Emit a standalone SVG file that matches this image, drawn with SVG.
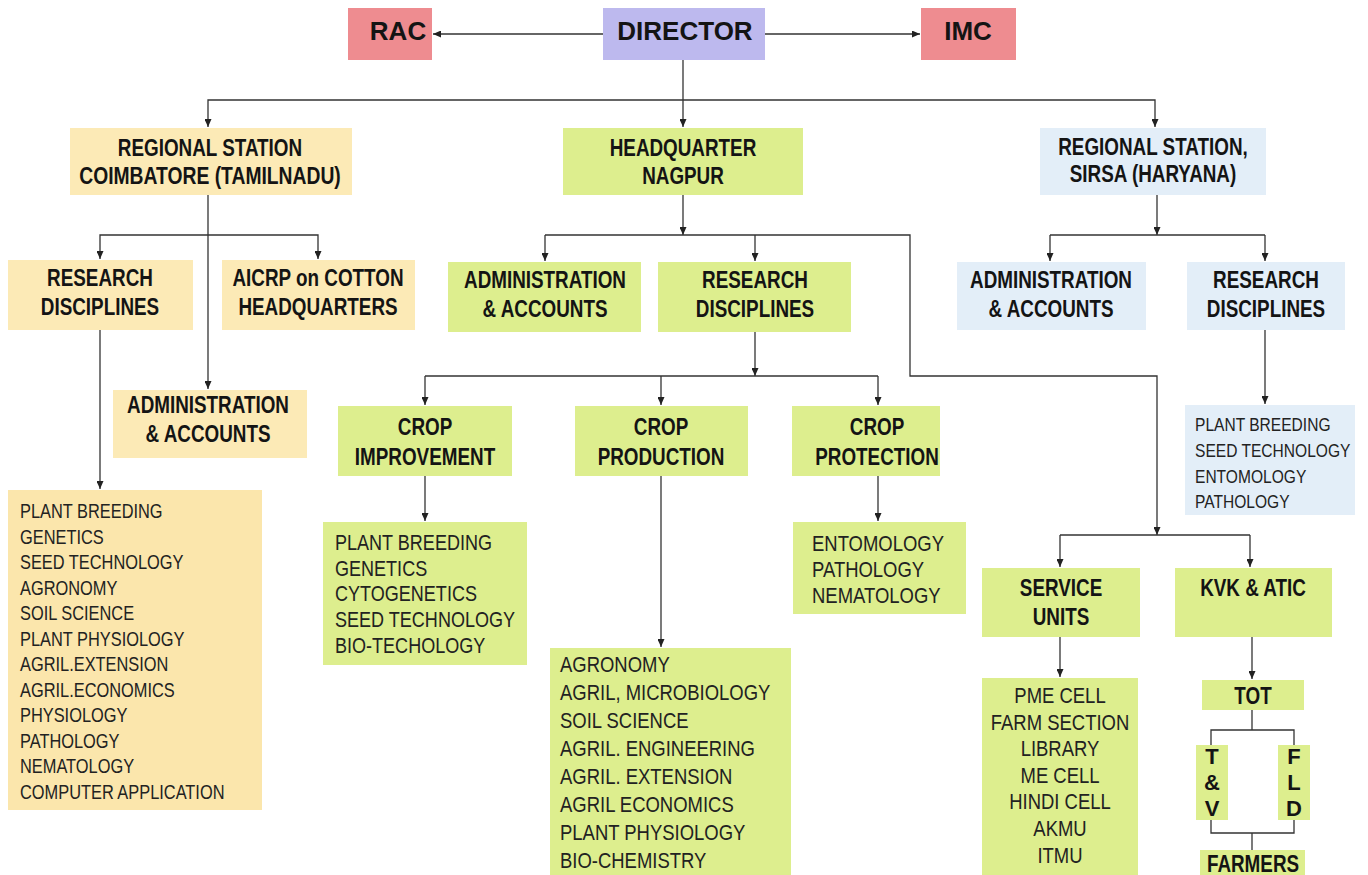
<svg xmlns="http://www.w3.org/2000/svg" width="1368" height="875" viewBox="0 0 1368 875">
<style>
.bg{fill:#ffffff}
.pink{fill:#EE8C90}
.lav{fill:#BDB9EE}
.cream{fill:#FCEAB6}
.creamL{fill:#FBE6AC}
.green{fill:#DDEE8E}
.blue{fill:#E3EEF8}
.top{font-family:'Liberation Sans',Arial,sans-serif;font-weight:bold;font-size:26px;fill:#141414;text-anchor:middle}
.h{font-family:'Liberation Sans',Arial,sans-serif;font-weight:bold;font-size:23px;fill:#141414;text-anchor:middle}
.v{font-family:'Liberation Sans',Arial,sans-serif;font-weight:bold;font-size:22px;fill:#141414;text-anchor:middle;writing-mode:vertical-rl;text-orientation:upright;letter-spacing:1px}
.l{font-family:'Liberation Sans',Arial,sans-serif;font-size:22px;fill:#222}
.ls{font-size:20px}
.lxs{font-size:19px}
.c{text-anchor:middle}
.conn path{fill:none;stroke:#333;stroke-width:1.3}
</style>
<defs>
<marker id="arr" markerUnits="userSpaceOnUse" markerWidth="8" markerHeight="7" refX="8" refY="3.5" orient="auto">
<path d="M0,0 L8,3.5 L0,7 z" fill="#222"/>
</marker>
</defs>
<rect class="bg" x="0" y="0" width="1368" height="875"/>

<g id="rac"><rect class="pink" x="348" y="8" width="84" height="52"/><text class="top" x="398" y="40">RAC</text></g>
<g id="director"><rect class="lav" x="603" y="8" width="162" height="52"/><text class="top" x="685" y="40">DIRECTOR</text></g>
<g id="imc"><rect class="pink" x="921" y="8" width="95" height="52"/><text class="top" x="968" y="40">IMC</text></g>

<g id="coimbatore"><rect class="cream" x="70" y="128" width="282" height="67"/><text class="h" transform="translate(210 156) scale(.82 1)">REGIONAL STATION</text><text class="h" transform="translate(210 184) scale(.84 1)">COIMBATORE (TAMILNADU)</text></g>
<g id="hq"><rect class="green" x="563" y="128" width="240" height="67"/><text class="h" transform="translate(683 156) scale(.82 1)">HEADQUARTER</text><text class="h" transform="translate(683 184) scale(.82 1)">NAGPUR</text></g>
<g id="sirsa"><rect class="blue" x="1040" y="128" width="226" height="67"/><text class="h" transform="translate(1153 155) scale(.82 1)">REGIONAL STATION,</text><text class="h" transform="translate(1153 182) scale(.82 1)">SIRSA (HARYANA)</text></g>

<g id="c-rd"><rect class="cream" x="8" y="260" width="185" height="70"/><text class="h" transform="translate(100 286) scale(.82 1)">RESEARCH</text><text class="h" transform="translate(100 315) scale(.82 1)">DISCIPLINES</text></g>
<g id="c-aicrp"><rect class="cream" x="222" y="260" width="193" height="70"/><text class="h" transform="translate(318 286) scale(.82 1)">AICRP on COTTON</text><text class="h" transform="translate(318 315) scale(.82 1)">HEADQUARTERS</text></g>
<g id="c-admin"><rect class="cream" x="113" y="390" width="194" height="68"/><text class="h" transform="translate(208 413) scale(.82 1)">ADMINISTRATION</text><text class="h" transform="translate(208 442) scale(.82 1)">&amp; ACCOUNTS</text></g>
<g id="c-list"><rect class="creamL" x="8" y="490" width="254" height="320"/>
<text class="l ls" transform="translate(20 518) scale(.82 1)">PLANT BREEDING</text>
<text class="l ls" transform="translate(20 544) scale(.82 1)">GENETICS</text>
<text class="l ls" transform="translate(20 569) scale(.82 1)">SEED TECHNOLOGY</text>
<text class="l ls" transform="translate(20 595) scale(.82 1)">AGRONOMY</text>
<text class="l ls" transform="translate(20 620) scale(.82 1)">SOIL SCIENCE</text>
<text class="l ls" transform="translate(20 646) scale(.82 1)">PLANT PHYSIOLOGY</text>
<text class="l ls" transform="translate(20 671) scale(.82 1)">AGRIL.EXTENSION</text>
<text class="l ls" transform="translate(20 697) scale(.82 1)">AGRIL.ECONOMICS</text>
<text class="l ls" transform="translate(20 722) scale(.82 1)">PHYSIOLOGY</text>
<text class="l ls" transform="translate(20 748) scale(.82 1)">PATHOLOGY</text>
<text class="l ls" transform="translate(20 773) scale(.82 1)">NEMATOLOGY</text>
<text class="l ls" transform="translate(20 799) scale(.82 1)">COMPUTER APPLICATION</text>
</g>

<g id="hq-admin"><rect class="green" x="448" y="262" width="193" height="70"/><text class="h" transform="translate(545 288) scale(.82 1)">ADMINISTRATION</text><text class="h" transform="translate(545 317) scale(.82 1)">&amp; ACCOUNTS</text></g>
<g id="hq-rd"><rect class="green" x="658" y="262" width="193" height="70"/><text class="h" transform="translate(755 288) scale(.82 1)">RESEARCH</text><text class="h" transform="translate(755 317) scale(.82 1)">DISCIPLINES</text></g>

<g id="crop-improvement"><rect class="green" x="338" y="406" width="174" height="70"/><text class="h" transform="translate(425 435) scale(.82 1)">CROP</text><text class="h" transform="translate(425 465) scale(.82 1)">IMPROVEMENT</text></g>
<g id="crop-production"><rect class="green" x="575" y="406" width="173" height="70"/><text class="h" transform="translate(661 435) scale(.82 1)">CROP</text><text class="h" transform="translate(661 465) scale(.82 1)">PRODUCTION</text></g>
<g id="crop-protection"><rect class="green" x="792" y="406" width="148" height="70"/><text class="h" transform="translate(877 435) scale(.82 1)">CROP</text><text class="h" transform="translate(877 465) scale(.82 1)">PROTECTION</text></g>

<g id="ci-list"><rect class="green" x="323" y="522" width="204" height="143"/>
<text class="l" transform="translate(335 550) scale(.82 1)">PLANT BREEDING</text>
<text class="l" transform="translate(335 576) scale(.82 1)">GENETICS</text>
<text class="l" transform="translate(335 601) scale(.82 1)">CYTOGENETICS</text>
<text class="l" transform="translate(335 627) scale(.82 1)">SEED TECHNOLOGY</text>
<text class="l" transform="translate(335 653) scale(.82 1)">BIO-TECHOLOGY</text>
</g>
<g id="cp-list"><rect class="green" x="550" y="648" width="241" height="227"/>
<text class="l" transform="translate(560 672) scale(.84 1)">AGRONOMY</text>
<text class="l" transform="translate(560 700) scale(.84 1)">AGRIL, MICROBIOLOGY</text>
<text class="l" transform="translate(560 728) scale(.84 1)">SOIL SCIENCE</text>
<text class="l" transform="translate(560 756) scale(.84 1)">AGRIL. ENGINEERING</text>
<text class="l" transform="translate(560 784) scale(.84 1)">AGRIL. EXTENSION</text>
<text class="l" transform="translate(560 812) scale(.84 1)">AGRIL ECONOMICS</text>
<text class="l" transform="translate(560 840) scale(.84 1)">PLANT PHYSIOLOGY</text>
<text class="l" transform="translate(560 868) scale(.84 1)">BIO-CHEMISTRY</text>
</g>
<g id="cpr-list"><rect class="green" x="793" y="522" width="173" height="92"/>
<text class="l" transform="translate(812 551) scale(.84 1)">ENTOMOLOGY</text>
<text class="l" transform="translate(812 577) scale(.84 1)">PATHOLOGY</text>
<text class="l" transform="translate(812 603) scale(.84 1)">NEMATOLOGY</text>
</g>

<g id="s-admin"><rect class="blue" x="957" y="262" width="189" height="68"/><text class="h" transform="translate(1051 288) scale(.82 1)">ADMINISTRATION</text><text class="h" transform="translate(1051 317) scale(.82 1)">&amp; ACCOUNTS</text></g>
<g id="s-rd"><rect class="blue" x="1187" y="262" width="158" height="68"/><text class="h" transform="translate(1266 288) scale(.82 1)">RESEARCH</text><text class="h" transform="translate(1266 317) scale(.82 1)">DISCIPLINES</text></g>
<g id="s-list"><rect class="blue" x="1185" y="405" width="170" height="110"/>
<text class="l lxs" transform="translate(1195 431) scale(.82 1)">PLANT BREEDING</text>
<text class="l lxs" transform="translate(1195 457) scale(.82 1)">SEED TECHNOLOGY</text>
<text class="l lxs" transform="translate(1195 483) scale(.82 1)">ENTOMOLOGY</text>
<text class="l lxs" transform="translate(1195 508) scale(.82 1)">PATHOLOGY</text>
</g>

<g id="service-units"><rect class="green" x="982" y="568" width="158" height="69"/><text class="h" transform="translate(1061 596) scale(.82 1)">SERVICE</text><text class="h" transform="translate(1061 625) scale(.82 1)">UNITS</text></g>
<g id="kvk-atic"><rect class="green" x="1175" y="568" width="157" height="69"/><text class="h" transform="translate(1253 596) scale(.82 1)">KVK &amp; ATIC</text></g>
<g id="su-list"><rect class="green" x="982" y="678" width="156" height="197"/>
<text class="l c" transform="translate(1060 703) scale(.84 1)">PME CELL</text>
<text class="l c" transform="translate(1060 730) scale(.84 1)">FARM SECTION</text>
<text class="l c" transform="translate(1060 756) scale(.84 1)">LIBRARY</text>
<text class="l c" transform="translate(1060 783) scale(.84 1)">ME CELL</text>
<text class="l c" transform="translate(1060 809) scale(.84 1)">HINDI CELL</text>
<text class="l c" transform="translate(1060 836) scale(.84 1)">AKMU</text>
<text class="l c" transform="translate(1060 863) scale(.84 1)">ITMU</text>
</g>
<g id="tot"><rect class="green" x="1202" y="680" width="102" height="30"/><text class="h" transform="translate(1253 704) scale(.82 1)">TOT</text></g>
<g id="tv"><rect class="green" x="1196" y="745" width="32" height="75"/><text class="v" x="1212" y="783">T&amp;V</text></g>
<g id="fld"><rect class="green" x="1278" y="745" width="32" height="75"/><text class="v" x="1294" y="783">FLD</text></g>
<g id="farmers"><rect class="green" x="1200" y="850" width="105" height="25"/><text class="h" transform="translate(1253 872) scale(.82 1)">FARMERS</text></g>

<g id="connectors" class="conn">
<path d="M603,34 H433" marker-end="url(#arr)"/>
<path d="M765,34 H920" marker-end="url(#arr)"/>
<path d="M683,60 V127" marker-end="url(#arr)"/>
<path d="M683,100 H208 V127" marker-end="url(#arr)"/>
<path d="M683,100 H1155 V127" marker-end="url(#arr)"/>
<path d="M208,195 V389" marker-end="url(#arr)"/>
<path d="M208,235 H100 V259" marker-end="url(#arr)"/>
<path d="M208,235 H318 V259" marker-end="url(#arr)"/>
<path d="M100,330 V489" marker-end="url(#arr)"/>
<path d="M683,195 V235" marker-end="url(#arr)"/>
<path d="M545,235 H910 V376 H1157 V535" marker-end="url(#arr)"/>
<path d="M545,235 V261" marker-end="url(#arr)"/>
<path d="M755,235 V261" marker-end="url(#arr)"/>
<path d="M755,332 V376" marker-end="url(#arr)"/>
<path d="M425,376 H878"/>
<path d="M425,376 V405" marker-end="url(#arr)"/>
<path d="M661,376 V405" marker-end="url(#arr)"/>
<path d="M878,376 V405" marker-end="url(#arr)"/>
<path d="M425,476 V521" marker-end="url(#arr)"/>
<path d="M661,476 V647" marker-end="url(#arr)"/>
<path d="M878,476 V521" marker-end="url(#arr)"/>
<path d="M1157,195 V235" marker-end="url(#arr)"/>
<path d="M1050,235 H1265"/>
<path d="M1050,235 V261" marker-end="url(#arr)"/>
<path d="M1265,235 V261" marker-end="url(#arr)"/>
<path d="M1265,330 V404" marker-end="url(#arr)"/>
<path d="M1060,535 H1250"/>
<path d="M1060,535 V567" marker-end="url(#arr)"/>
<path d="M1250,535 V567" marker-end="url(#arr)"/>
<path d="M1060,637 V677" marker-end="url(#arr)"/>
<path d="M1252,637 V679" marker-end="url(#arr)"/>
<path d="M1252,710 V730"/>
<path d="M1211,745 V730 H1294 V745"/>
<path d="M1211,820 V833 H1294 V820"/>
<path d="M1252,833 V850"/>
</g>
</svg>
